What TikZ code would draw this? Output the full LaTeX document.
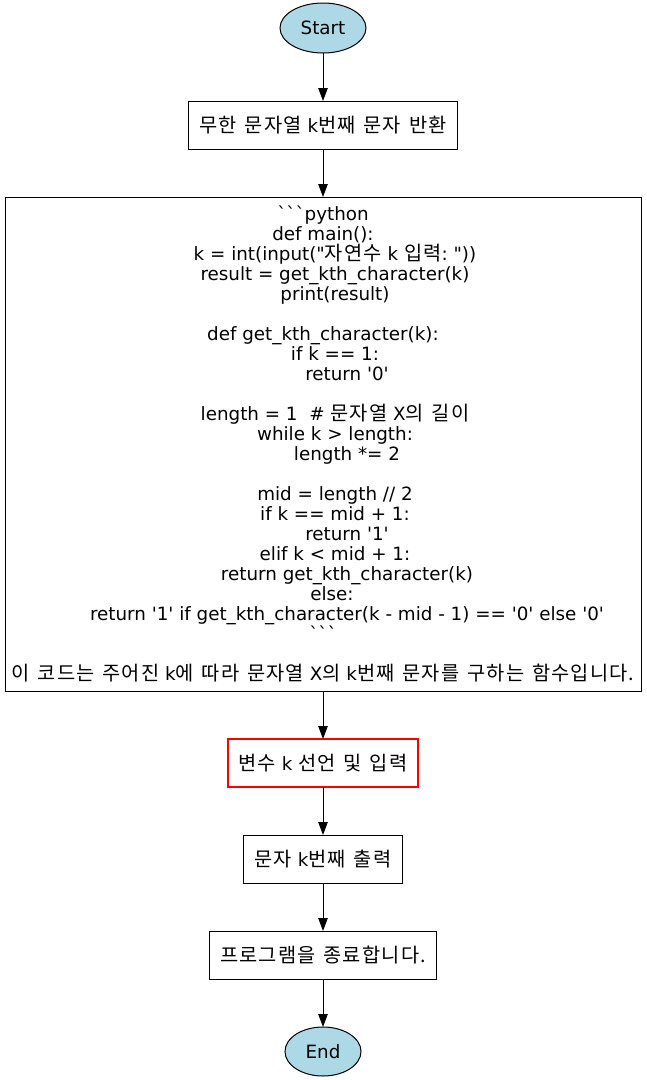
\documentclass[tikz,border=0pt]{standalone}
\usepackage{fontspec}
\setmainfont{DejaVu Sans}[Ligatures=TeXOff]
\newfontfamily\hangul{Noto Sans CJK KR}[Scale=1.08,LetterSpace=6,WordSpace=1.4]
\usetikzlibrary{arrows.meta,shapes.geometric,positioning}
\definecolor{termfill}{RGB}{173,216,230}
\newcommand{\lvA}{\hspace*{24pt}}
\newcommand{\lvB}{\hspace*{48pt}}
\newcommand{\lvE}{\hspace*{18pt}}
\tikzset{
  basic/.style = {draw, line width=1pt, outer sep=0pt, font=\fontsize{18.3pt}{20pt}\selectfont},
  terminal/.style = {basic, ellipse, fill=termfill, inner sep=0pt},
  stepbox/.style = {basic, rectangle, align=center, minimum height=48pt, inner xsep=11pt},
  codebox/.style = {basic, rectangle, align=center, minimum width=636pt, minimum height=494pt, inner sep=4pt},
  inputbox/.style = {stepbox, draw=red, line width=2pt},
  flow/.style = {line width=1pt, -{Triangle[length=13pt,width=9.5pt]}}
}

\begin{document}
\begin{tikzpicture}[x=1pt,y=1pt]
\useasboundingbox (0,0) rectangle (647,-1080);
\node [terminal, minimum width=86pt, minimum height=50pt] (start) at (323,-28) {Start};
\node [stepbox, below=48pt of start, minimum width=266pt] (task) {{\hangul 무한 문자열} k{\hangul 번째 문자 반환}};
% the code block as one node
\node [codebox, below=48pt of task] (code) {```python\\
def main():\\
\lvA k = int(input("{\hangul 자연수} k {\hangul 입력}:\ "))\\
\lvA result = get\_kth\_character(k)\\
\lvA print(result)\\[20pt]
def get\_kth\_character(k):\\
\lvA if k == 1:\\
\lvB return '0'\\[20pt]
\lvA length = 1\ \ \# {\hangul 문자열} X{\hangul 의 길이}\\
\lvA while k > length:\\
\lvB length *= 2\\[20pt]
\lvA mid = length // 2\\
\lvA if k == mid + 1:\\
\lvB return '1'\\
\lvA elif k < mid + 1:\\
\lvB return get\_kth\_character(k)\\
\lvE else:\\
\lvB return '1' if get\_kth\_character(k - mid - 1) == '0' else '0'\\
```\\[20pt]
{\hangul 이 코드는 주어진} k{\hangul 에 따라 문자열} X{\hangul 의} k{\hangul 번째 문자를 구하는 함수입니다.}};
\node [inputbox, below=48pt of code, minimum width=190pt] (input) {{\hangul 변수} k {\hangul 선언 및 입력}};
\node [stepbox, below=48pt of input, minimum width=158pt] (output) {{\hangul 문자} k{\hangul 번째 출력}};
\node [stepbox, below=48pt of output, minimum width=224pt] (quit) {{\hangul 프로그램을 종료합니다.}};
\node [terminal, below=48pt of quit, minimum width=76pt, minimum height=49pt] (end) {End};
% connectors
\draw [flow] (start) -- (task);
\draw [flow] (task) -- (code);
\draw [flow] (code) -- (input);
\draw [flow] (input) -- (output);
\draw [flow] (output) -- (quit);
\draw [flow] (quit) -- (end);
\end{tikzpicture}
\end{document}
